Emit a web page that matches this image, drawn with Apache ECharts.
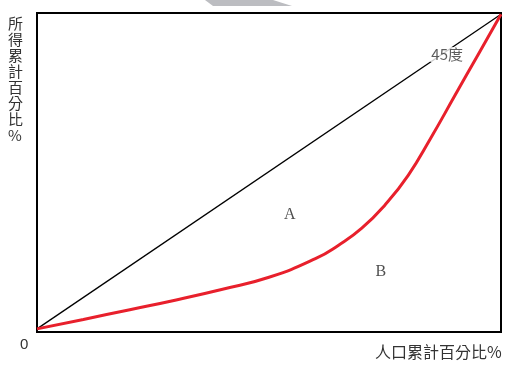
<!DOCTYPE html>
<html>
<head>
<meta charset="utf-8">
<script src="https://cdn.jsdelivr.net/npm/echarts@6/dist/echarts.min.js"></script>
<style>
  html, body { margin: 0; padding: 0; background: #fff; }
  #show_picture { width: 505px; height: 365px; }
</style>
</head>
<body>
<div id="show_picture"></div>
<script>
// 人口累計百分比 (x) vs 所得累計百分比 (y)
const popPct = [0, 10, 20, 30, 40, 50, 60, 65, 70, 75, 80, 85, 90, 95, 100];
const incomePct = [0, 3, 6.1, 9.2, 12.6, 16.4, 22.3, 26.6, 32, 39.4, 48.8, 61, 74, 87, 100];
const equalLine = [[0, 0], [100, 100]];
const areaLabels = [['A', 54.5, 36.2], ['B', 74.1, 18.1]];

let myChart = echarts.init(document.getElementById('show_picture'));

let lorenz = popPct.map((x, i) => [x, incomePct[i]]);
let cjk = '"Noto Sans CJK TC", "Noto Sans CJK SC", sans-serif';

let option = {
    animation: false,
    grid: {
        left: 37, right: 4, top: 13, bottom: 33,
        show: true, borderColor: '#000', borderWidth: 2
    },
    xAxis: {
        type: 'value', min: 0, max: 100,
        axisLine: { show: false }, axisTick: { show: false },
        axisLabel: { show: false }, splitLine: { show: false }
    },
    yAxis: {
        type: 'value', min: -1, max: 100.4,
        axisLine: { show: false }, axisTick: { show: false },
        axisLabel: { show: false }, splitLine: { show: false }
    },
    graphic: [
        {
            type: 'polygon', silent: true,
            shape: { points: [[205, 0], [273, 0], [292, 6], [213, 6]] },
            style: { fill: '#bcbdc1' }
        },
        {
            type: 'text', left: 20, top: 337,
            style: { text: '0', fontSize: 15, fill: '#333', fontFamily: 'sans-serif' }
        },
        {
            type: 'text', left: 375, top: 344,
            style: { text: '人口累計百分比%', fontSize: 16, fill: '#333', fontFamily: cjk }
        },
        {
            type: 'text', left: 8, top: 15,
            style: { text: '所\n得\n累\n計\n百\n分\n比\n%', fontSize: 15, lineHeight: 16, fill: '#333', fontFamily: cjk }
        }
    ],
    series: [
        {
            type: 'line', data: equalLine, symbol: 'none', z: 2,
            lineStyle: { color: '#000', width: 1.3 }
        },
        {
            type: 'line', data: lorenz, symbol: 'none', smooth: 0.5, z: 3,
            lineStyle: { color: '#e8202c', width: 3 }
        },
        {
            type: 'scatter', symbolSize: 0, z: 4,
            data: [[88.4, 87.2]],
            label: {
                show: true, position: 'inside', formatter: '45度',
                fontSize: 15, color: '#333', fontFamily: cjk,
                backgroundColor: '#fff', padding: [0, 1]
            }
        },
        {
            type: 'scatter', symbolSize: 0, z: 4,
            data: areaLabels.map(a => ({ value: [a[1], a[2]], name: a[0] })),
            label: {
                show: true, position: 'inside', formatter: '{b}',
                fontSize: 16, color: '#222', fontFamily: '"Liberation Serif", serif'
            }
        }
    ]
};

option && myChart.setOption(option);
</script>
</body>
</html>
